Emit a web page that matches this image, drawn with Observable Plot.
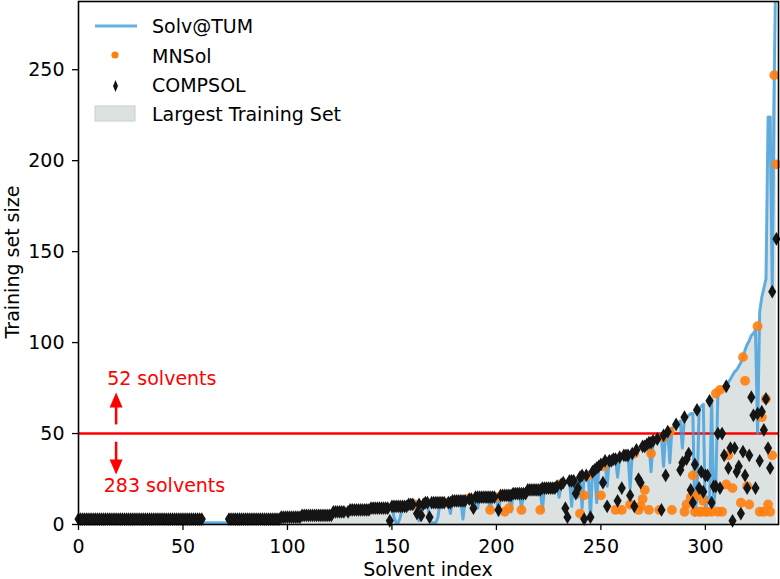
<!DOCTYPE html>
<html><head><meta charset="utf-8">
<script src="https://cdn.jsdelivr.net/npm/d3@7"></script>
<script src="https://cdn.jsdelivr.net/npm/@observablehq/plot@0.6"></script>
<style>body{margin:0;background:#fff}#chart{width:780px;height:579px}</style>
</head><body><div id="chart"></div>
<script>
const n = null;
// Largest training set per solvent index (0..334)
const largest = [
3,3,3,3,3,3,3,3,3,3,
3,3,3,3,3,3,3,3,3,3,
3,3,3,3,3,3,3,3,3,3,
3,3,3,3,3,3,3,3,3,3,
3,3,3,3,3,3,3,3,3,3,
3,3,3,3,3,3,3,3,3,3,
1,1,1,1,1,1,1,1,1,1,
1,1,3,3,3,3,3,3,3,3,
3,3,3,3,3,3,3,3,3,3,
3,3,3,3,3,3,3,4,4,4,
4,4,4,4,4,4,4,5,5,5,
5,5,5,5,5,5,5,5,5,5,
5,5,7,7,7,7,7,7,7,7,
8,8,8,8,8,8,8,8,8,8,
9,9,9,9,9,9,9,9,9,10,
10,10,10,10,10,10,10,10,11,11,
11,11,11,11,11,11,12,12,12,12,
12,12,12,12,12,12,12,12,12,13,
13,13,13,13,13,13,14,14,14,15,
15,15,15,15,15,15,15,15,15,15,
15,16,16,16,16,16,16,16,17,17,
17,17,17,17,17,19,19,19,19,19,
19,19,20,20,20,20,20,20,20,21,
22,22,23,23,23,24,24,24,25,25,
26,27,27,27,28,29,29,30,31,32,
33,34,35,35,35,35,36,36,37,37,
37,38,38,38,38,39,40,41,42,42,
43,43,44,45,45,46,46,47,48,48,
49,50,51,52,53,54,55,56,57,58,
59,59,60,61,61,62,63,64,65,66,
67,68,68,69,70,72,73,74,74,75,
76,78,80,82,84,85,87,89,92,96,
99,101,104,105,107,109,117,125,130,135,
224,224,224,250,330];
// Solv@TUM training set size per solvent index
const solvTUM = [
3,3,3,3,3,3,3,3,3,3,
3,3,3,3,3,3,3,3,3,3,
3,3,3,3,3,3,3,3,3,3,
3,3,3,3,3,3,3,3,3,3,
3,3,3,3,3,3,3,3,3,3,
3,3,3,3,3,3,3,3,3,3,
1,1,1,1,1,1,1,1,1,1,
1,1,3,3,3,3,3,3,3,3,
3,3,3,3,3,3,3,3,3,3,
3,3,3,3,3,3,3,1,1,2,
4,4,4,4,4,4,4,5,5,5,
5,5,5,5,5,5,5,5,5,5,
5,5,7,7,7,7,7,7,7,7,
8,8,8,8,8,8,8,8,8,8,
9,9,9,9,9,9,9,9,9,10,
10,4,1,1,4,10,10,10,11,11,
11,11,11,2,11,11,12,12,3,1,
1,1,4,12,12,12,12,12,6,13,
13,13,13,13,3,13,14,14,14,15,
15,9,15,15,15,15,15,8,15,15,
15,5,16,16,16,16,16,7,17,17,
17,17,9,17,17,19,19,19,19,19,
19,19,8,20,20,20,20,20,20,21,
15,22,23,23,23,24,10,24,25,15,
26,9,27,27,28,4,29,30,12,32,
33,34,35,21,35,35,36,36,26,37,
37,38,38,38,20,39,40,41,42,42,
43,43,44,45,29,46,46,47,48,48,
32,50,51,34,53,54,55,56,57,42,
59,59,60,61,61,5,15,64,65,66,
6,15,12,69,10,22,73,74,74,75,
76,78,80,82,84,85,87,89,92,96,
99,101,104,105,107,50,117,125,130,135,
224,224,130,250,330];
// COMPSOL training set size per solvent index (null = none)
const compsol = [
3,3,3,3,3,3,3,3,3,3,
3,3,3,3,3,3,3,3,3,3,
3,3,3,3,3,3,3,3,3,3,
3,3,3,3,3,3,3,3,3,3,
3,3,3,3,3,3,3,3,3,3,
3,3,3,3,3,3,3,3,3,3,
n,n,n,n,n,n,n,n,n,n,
n,n,3,3,3,3,3,3,3,3,
3,3,3,3,3,3,3,3,3,3,
3,3,3,3,3,3,3,4,4,4,
4,4,4,4,4,4,4,5,5,5,
5,5,5,5,5,5,5,5,5,5,
5,5,7,7,7,7,7,7,n,7,
8,8,8,8,8,8,8,8,8,8,
9,9,9,9,9,9,9,9,9,2,
10,10,10,10,10,10,10,10,11,11,
11,n,6,11,5,11,12,12,4,12,
12,12,12,12,12,12,n,12,12,13,
13,13,13,13,13,13,n,14,14,9,
15,15,15,15,15,15,15,15,15,15,
n,8,16,16,16,16,16,16,17,17,
17,17,17,17,17,19,19,19,19,19,
19,19,20,20,20,20,20,20,20,21,
n,22,23,9,4,24,24,24,17,20,
26,27,3,27,n,4,29,30,31,32,
33,23,35,10,35,35,36,36,13,37,
20,38,38,38,16,39,10,41,25,23,
43,43,44,45,45,46,n,47,n,8,
49,27,51,n,n,n,55,n,30,34,
59,36,39,19,12,33,63,20,29,18,
27,27,68,12,21,21,50,20,50,38,
76,31,42,2,42,29,32,6,40,27,
20,38,70,60,20,61,35,62,52,69,
42,31,128,n,157];
// MNSol points (solvent index, training set size)
const mnsolIndex = [128,161,176,186,197,200,204,206,212,221,230,240,242,244,250,251,257,260,264,266,268,269,270,271,273,274,278,280,283,284,290,291,293,294,295,296,297,298,299,300,301,303,305,306,307,308,310,311,313,317,318,319,320,321,325,326,327,328,329,330,331,332,333,334];
const mnsolValue = [7,11,12,14,8,15,7,9,8,8,22,6,16,27,16,32,8,8,11,39,8,10,14,19,8,39,8,48,51,8,7,11,15,27,7,16,7,7,13,7,7,7,72,7,74,7,22,38,20,12,92,79,21,11,109,7,59,7,69,11,7,38,247,198];

const xTicks = [0, 50, 100, 150, 200, 250, 300];
const yTicks = [0, 50, 100, 150, 200, 250];
const threshold = [50];
const arrowX = [18, 18];
const arrowStart = [55, 45.5];
const arrowShaftEnd = [66, 34];
const arrowTip = [72.5, 27.5];
const noteX = [13.7, 12.1];
const noteY = [80, 21];
const noteText = ["52 solvents", "283 solvents"];
const legendLabels = ["Solv@TUM", "MNSol", "COMPSOL", "Largest Training Set"];
const xLabel = "Solvent index";
const yLabel = "Training set size";

const rows = largest.map((v, i) => ({i, largest: v, solv: solvTUM[i], compsol: compsol[i]}));
const mnsolRows = mnsolIndex.map((x, k) => ({x, y: mnsolValue[k]}));
const arrows = arrowX.map((x, k) => ({x, y1: arrowStart[k], y2: arrowShaftEnd[k], tip: arrowTip[k]}));
const notes = noteX.map((x, k) => ({x, y: noteY[k], t: noteText[k]}));

const thinDiamond = {
  draw(ctx, size) {
    const r = Math.sqrt(size / Math.PI);
    const h = r * 1.35, w = r * 0.8;
    ctx.moveTo(0, -h); ctx.lineTo(w, 0); ctx.lineTo(0, h); ctx.lineTo(-w, 0); ctx.closePath();
  }
};
const arrowHead = {
  draw(ctx, size) {
    const r = Math.sqrt(size / Math.PI);
    ctx.moveTo(0, 0); ctx.lineTo(r, r * 2.3); ctx.lineTo(-r, r * 2.3); ctx.closePath();
  }
};

const font = "DejaVu Sans";
const chart = Plot.plot({
  width: 780, height: 579,
  marginLeft: 78, marginRight: 2, marginTop: 1, marginBottom: 55,
  style: {fontFamily: font, fontSize: "19px", background: "white", color: "black"},
  x: {domain: [0, 335]},
  y: {domain: [0, 287.5]},
  marks: [
    Plot.areaY(rows, {x: "i", y: "largest", fill: "#dce2e2", clip: true}),
    Plot.ruleY(threshold, {stroke: "#ff0000", strokeWidth: 2.5}),
    Plot.line(rows, {x: "i", y: "solv", stroke: "#3498db", strokeOpacity: 0.75, strokeWidth: 3, clip: true}),
    Plot.dot(mnsolRows, {x: "x", y: "y", r: 4.9, fill: "#ff7f0e", fillOpacity: 0.9}),
    Plot.dot(rows, {x: "i", y: "compsol", r: 5.1, symbol: thinDiamond, fill: "#151515"}),
    Plot.link(arrows, {x1: "x", x2: "x", y1: "y1", y2: "y2", stroke: "#ff0000", strokeWidth: 2.5}),
    Plot.dot(arrows.slice(0, 1), {x: "x", y: "tip", r: 6.5, symbol: arrowHead, fill: "#ff0000"}),
    Plot.dot(arrows.slice(1), {x: "x", y: "tip", r: 6.5, symbol: arrowHead, fill: "#ff0000", rotate: 180}),
    Plot.text(notes, {x: "x", y: "y", text: "t", textAnchor: "start", fill: "#ff0000", fontSize: 19, fontFamily: font}),
    Plot.axisX({ticks: xTicks, tickSize: 6, tickPadding: 9, label: null, fontSize: 19, strokeWidth: 1.3}),
    Plot.axisY({ticks: yTicks, tickSize: 6, tickPadding: 8, label: null, fontSize: 19, strokeWidth: 1.3}),
    Plot.frame({stroke: "black", strokeWidth: 1.6})
  ]
});
document.getElementById("chart").appendChild(chart);

const svg = d3.select(chart);
const g = svg.append("g").attr("font-family", font).attr("font-size", 19).attr("fill", "black").attr("text-anchor", "start");
g.append("line").attr("x1", 95).attr("x2", 137).attr("y1", 26).attr("y2", 26)
  .attr("stroke", "#3498db").attr("stroke-opacity", 0.75).attr("stroke-width", 3);
g.append("circle").attr("cx", 115).attr("cy", 55).attr("r", 3.6).attr("fill", "#ff7f0e");
g.append("path").attr("d", "M115.5,80 L118,86 L115.5,92 L113,86Z").attr("fill", "#151515");
g.append("rect").attr("x", 95).attr("y", 106).attr("width", 40).attr("height", 15)
  .attr("fill", "#dce2e2").attr("stroke", "#c9d0d0");
const legendY = [33, 62.5, 91.5, 120.5];
legendLabels.forEach((t, k) => {
  g.append("text").attr("x", 152).attr("y", legendY[k]).attr("text-anchor", "start").text(t);
});
g.append("text").attr("x", 428).attr("y", 576).attr("text-anchor", "middle").text(xLabel);
g.append("text").attr("transform", "translate(19,262) rotate(-90)").attr("text-anchor", "middle").text(yLabel);
</script>
</body></html>
